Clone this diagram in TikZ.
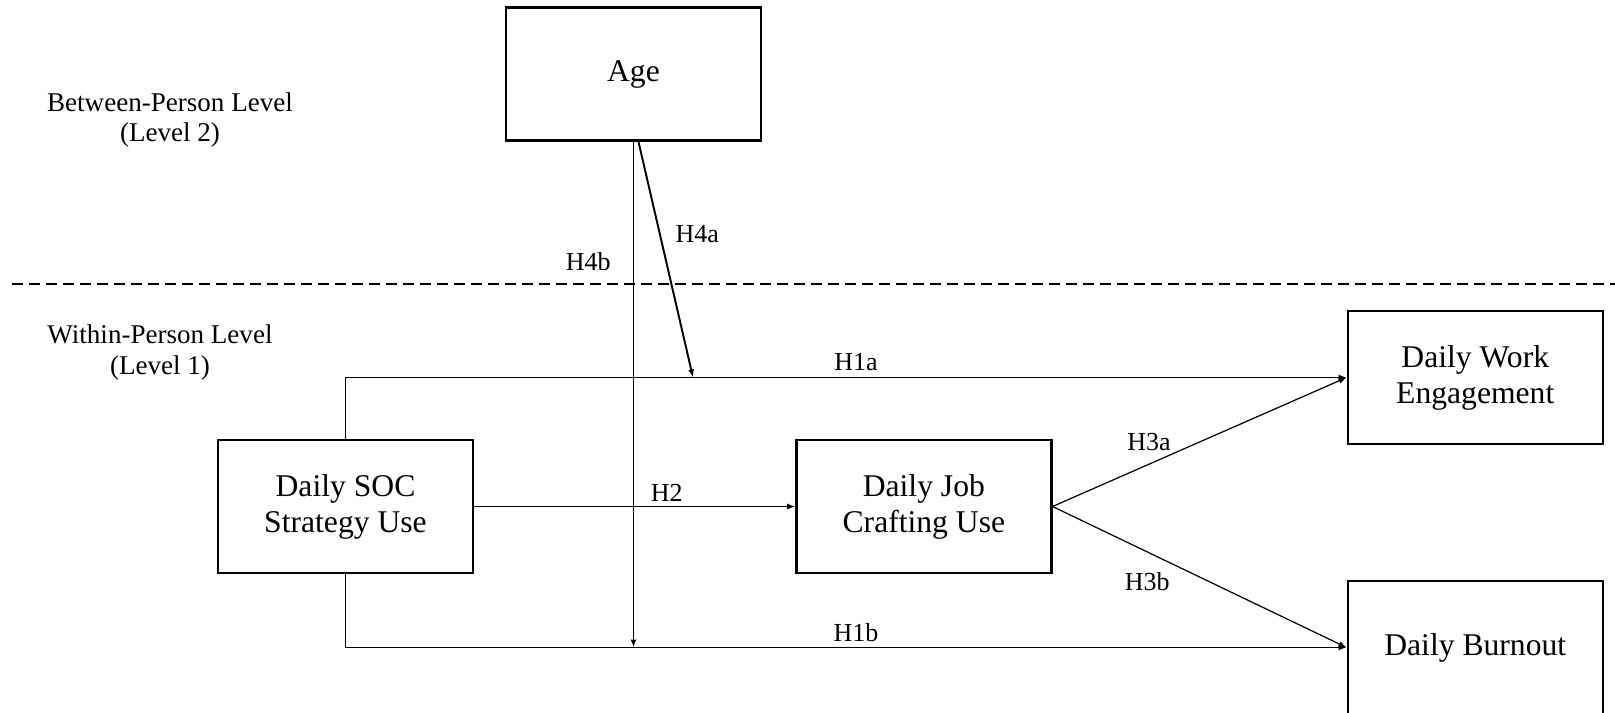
\documentclass[tikz,border=0pt]{standalone}
\usepackage{fontspec}
\setmainfont{Liberation Serif}
\usetikzlibrary{positioning,arrows.meta}
\tikzstyle{varbox} = [draw=black,
					  line width=1.35pt,
					  minimum width=5.1cm,
					  minimum height=2.66cm,
					  align=center,
					  font=\fontsize{18}{20.5}\selectfont]
\tikzstyle{hyp} = [font=\fontsize{14.8}{17}\selectfont]
\tikzstyle{levellabel} = [align=center,
						  font=\fontsize{15.4}{17.5}\selectfont]
\tikzstyle{mainpath} = [line width=1.1pt]
\tikzstyle{thinpath} = [line width=0.7pt]
\tikzstyle{levelline} = [line width=1.2pt,
						 dash pattern=on 2.2mm off 1.2mm]

\begin{document}
\begin{tikzpicture}[>={Latex[length=1.6mm,width=1.2mm]}]
	\useasboundingbox (0,0) rectangle (32.3,-14.26);

	%%%%%%%%%%%
	% LEVEL 2 %
	%%%%%%%%%%%
	\node[levellabel] (between) at (3.4,-2.4) {Between-Person Level\\(Level 2)};
	\draw[levelline] (0.24,-5.68) -- (32.3,-5.68);

	%%%%%%%%%%%
	% LEVEL 1 %
	%%%%%%%%%%%
	\node[levellabel] (within) at (3.2,-7.05) {Within-Person Level\\(Level 1)};
	\node[varbox] (soc) at (6.91,-10.13) {Daily SOC\\Strategy Use};
	\node[varbox, right=6.42cm of soc] (jc) {Daily Job\\Crafting Use};
	\node[varbox, right=5.88cm of jc, yshift=2.58cm] (we) {Daily Work\\Engagement};
	\node[varbox, right=5.88cm of jc, yshift=-2.82cm] (bo) {Daily Burnout};
	\node[varbox, above=5.94cm of soc, xshift=5.76cm] (age) {Age};

	%%%%%%%%%
	% PATHS %
	%%%%%%%%%
	\draw[->, mainpath] (soc.north) |- node[hyp, above, pos=0.755] (h1a) {H1a} (we.west);
	\draw[->, mainpath] (soc.south) |- node[hyp, above, pos=0.755, inner sep=2.5pt] (h1b) {H1b} (bo.west);
	\draw[->, thinpath] (soc.east) -- node[hyp, above, pos=0.6, inner sep=2.5pt] (h2) {H2} (jc.west);
	\draw[->, thinpath] (jc.east) -- node[hyp, above left, pos=0.41, inner sep=1pt] (h3a) {H3a} (we.west);
	\draw[->, thinpath] (jc.east) -- node[hyp, below left, pos=0.42] (h3b) {H3b} (bo.west);
	\coordinate[xshift=1.19cm] (mod) at (age.south |- we.west);
	\draw[->, mainpath] ([xshift=0.1cm]age.south) -- node[hyp, right, pos=0.39, xshift=0.18cm] (h4a) {H4a} (mod);
	\draw[->, mainpath] (age.south) -- node[hyp, left, pos=0.236, xshift=-0.32cm] (h4b) {H4b} (age.south |- bo.west);

\end{tikzpicture}
\end{document}
